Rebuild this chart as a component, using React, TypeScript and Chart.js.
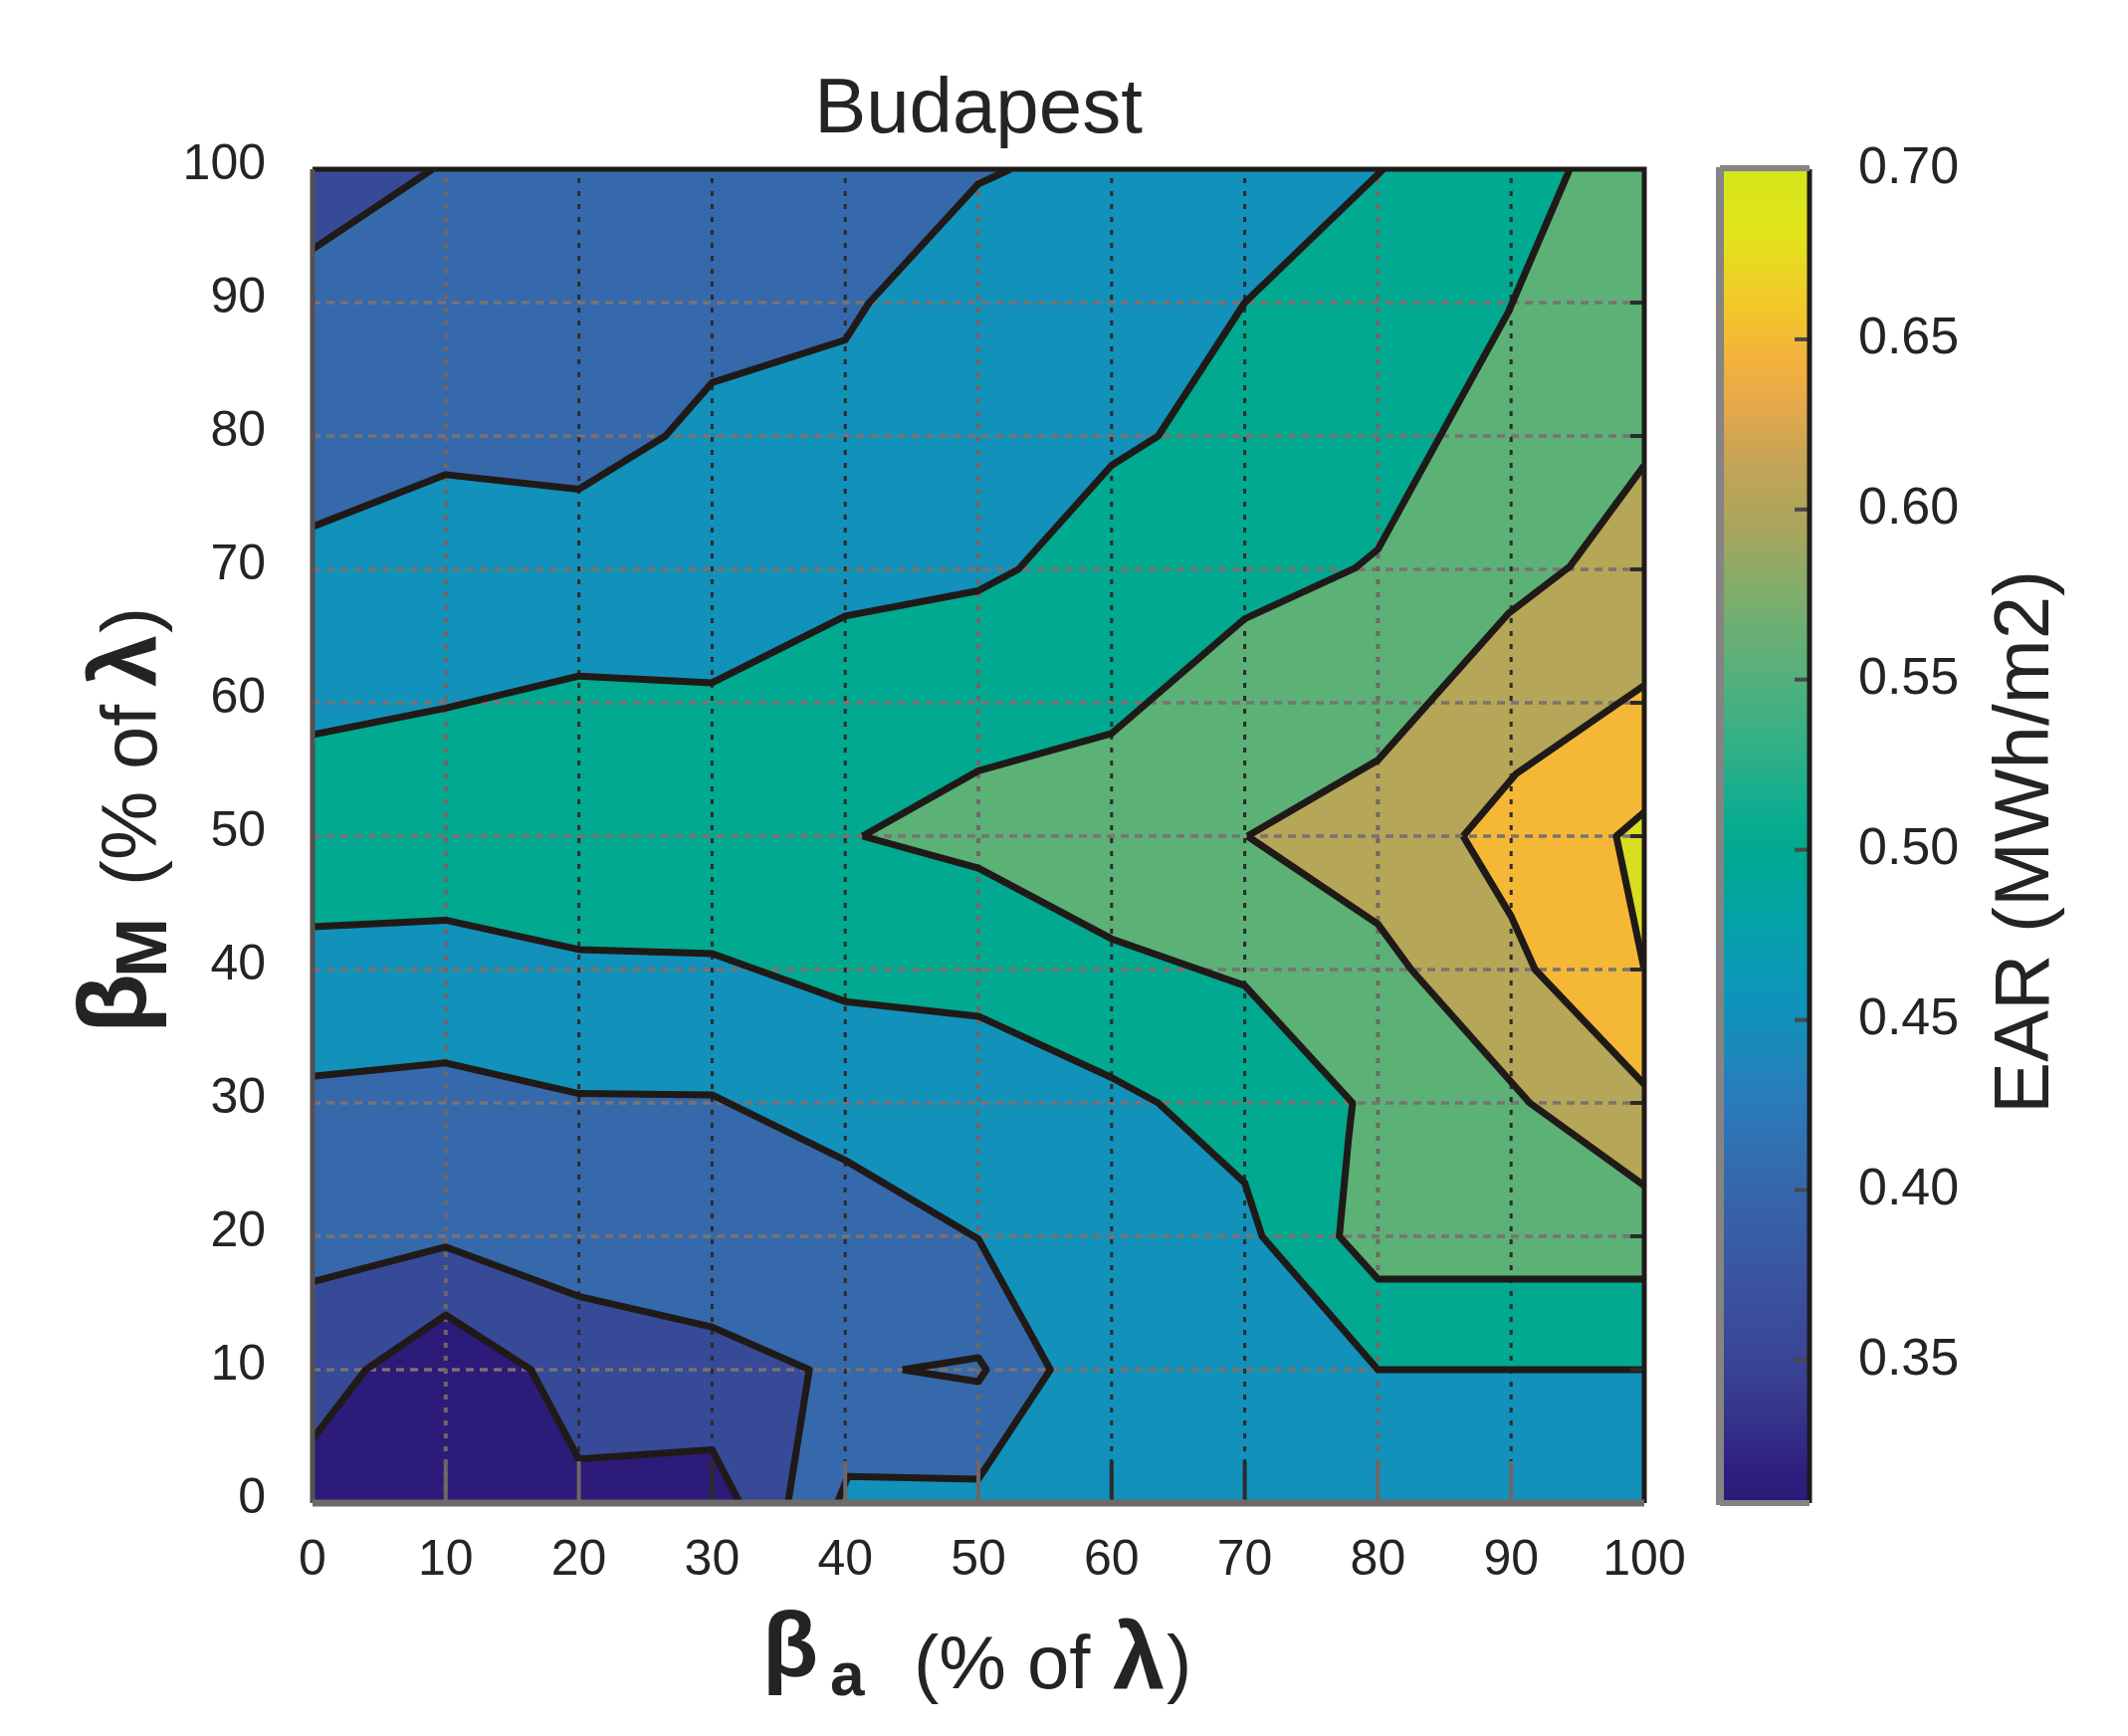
import { useEffect, useRef } from "react"
import { Chart, registerables } from "chart.js"

Chart.register(...registerables)

type Pt = [number, number]

const titleText = "Budapest"
const axisTicks = [0, 10, 20, 30, 40, 50, 60, 70, 80, 90, 100]
const gridTicks = [10, 20, 30, 40, 50, 60, 70, 80, 90]
const greyGridX = [10, 50, 80]

// contour lines as [beta a, beta M]
const cornerTop: Pt[] = [[0, 94], [9, 100]]
const upper045: Pt[] = [[0, 73.2], [10, 77.1], [20, 76], [26.5, 80], [30, 84], [40, 87.2], [41.8, 90], [50, 98.9], [52.4, 100]]
const upper050: Pt[] = [[0, 57.6], [10, 59.6], [20, 62], [30, 61.5], [40, 66.5], [50, 68.4], [53, 70], [60, 77.8], [63.5, 80], [70, 90], [80.4, 100]]
const upper055: Pt[] = [[41.3, 50], [50, 54.9], [60, 57.7], [70, 66.3], [78.3, 70.1], [80, 71.5], [89.8, 89.3], [94.4, 100]]
const lower055: Pt[] = [[41.3, 50], [50, 47.6], [60, 42.3], [70, 38.8], [78.1, 30], [77.8, 27.4], [77.1, 20], [80, 16.8], [100, 16.8]]
const lower050: Pt[] = [[0, 43.2], [10, 43.7], [20, 41.5], [30, 41.2], [40, 37.6], [50, 36.5], [60, 31.9], [63.5, 30], [70, 24], [71.3, 20], [80, 10], [100, 10]]
const lower045: Pt[] = [[0, 32], [10, 33], [20, 30.7], [30, 30.6], [40, 25.7], [50, 19.8], [55.4, 10], [50, 1.8], [40.2, 2], [39.4, 0]]
const lower040: Pt[] = [[0, 16.6], [10, 19.2], [20, 15.5], [30, 13.2], [37.3, 10], [35.7, 0]]
const lower035: Pt[] = [[0, 4.8], [4, 10], [10, 14.1], [16.4, 10], [20, 3.3], [30, 4], [32.1, 0]]
const island: Pt[] = [[44.3, 10], [50, 10.9], [50.6, 10], [50, 9.1], [44.3, 10]]
const upper060: Pt[] = [[70.2, 50], [80, 55.7], [89.8, 66.7], [94.4, 70.2], [100, 77.8]]
const lower060: Pt[] = [[70.2, 50], [80, 43.4], [82.5, 40], [91.4, 30], [100, 23.8]]
const upper065: Pt[] = [[86.4, 50], [90.4, 54.7], [100, 61.3]]
const lower065: Pt[] = [[86.4, 50], [90, 44], [91.8, 40], [100, 31.4]]
const peak070: Pt[] = [[100, 51.8], [97.9, 50], [100, 40]]

const bandColors = ["#2d1b79", "#374a97", "#3669ab", "#1291ba", "#00a98f", "#5cb176", "#b5a658", "#f5b836", "#d8de20"]
const contourColor = "#1f1a18"

// colour bar
const barMin = 0.308
const barMax = 0.7
const barTicks = [0.35, 0.4, 0.45, 0.5, 0.55, 0.6, 0.65, 0.7]
const barStops: [number, string][] = [
  [0.308, "#2c1a78"], [0.317, "#2e1e7e"], [0.331, "#35318a"], [0.349, "#3a4494"], [0.375, "#3a55a0"],
  [0.401, "#3567ac"], [0.427, "#2a7cb9"], [0.454, "#0f93bc"], [0.481, "#04a3a6"], [0.5, "#00a98f"],
  [0.509, "#0aac90"], [0.529, "#2fb089"], [0.555, "#5bb07a"], [0.575, "#7fad6b"], [0.594, "#a8a55c"],
  [0.614, "#c4a456"], [0.633, "#eaa948"], [0.6465, "#f4b43a"], [0.6595, "#f2c72b"], [0.682, "#e2e41a"], [0.7, "#d4e41a"],
]

const fontFamily = "'Liberation Sans', Arial, sans-serif"
const textColor = "#262324"

const pts = (line: Pt[]) => line.map(([x, y]) => ({ x, y }))
const rev = (line: Pt[]) => [...line].reverse()

function fillSet(poly: Pt[], color: string) {
  return { data: pts(poly), showLine: true, fill: "shape", backgroundColor: color, borderWidth: 0, pointRadius: 0, tension: 0 }
}

function lineSet(line: Pt[], color = contourColor, width = 7, dash: number[] = []) {
  return {
    data: pts(line),
    showLine: true,
    fill: false,
    borderColor: color,
    borderWidth: width,
    borderDash: dash,
    borderJoinStyle: "round",
    pointRadius: 0,
    tension: 0,
  }
}

type Run = { text: string; font: string; x: number; y: number }

// axis titles mix sizes and weights, so they are written by hand
const xTitle: Run[] = [
  { text: "β", font: `bold 92px ${fontFamily}`, x: 766, y: 1684 },
  { text: "a", font: `bold 62px ${fontFamily}`, x: 834, y: 1703 },
  { text: "(% of", font: `76px ${fontFamily}`, x: 918, y: 1696 },
  { text: "λ", font: `bold 94px ${fontFamily}`, x: 1118, y: 1697 },
  { text: ")", font: `76px ${fontFamily}`, x: 1172, y: 1696 },
]
const yTitle: Run[] = [
  { text: "β", font: `bold 98px ${fontFamily}`, x: -1038, y: 147 },
  { text: "M", font: `bold 72px ${fontFamily}`, x: -982, y: 167 },
  { text: "(% of", font: `78px ${fontFamily}`, x: -890, y: 157 },
  { text: "λ", font: `bold 94px ${fontFamily}`, x: -690, y: 157 },
  { text: ")", font: `78px ${fontFamily}`, x: -636, y: 157 },
]

function drawRuns(ctx: CanvasRenderingContext2D, runs: Run[], rotate = false) {
  ctx.save()
  ctx.fillStyle = textColor
  ctx.textAlign = "left"
  ctx.textBaseline = "alphabetic"
  if (rotate) ctx.rotate(-Math.PI / 2)
  runs.forEach((r) => {
    ctx.font = r.font
    ctx.fillText(r.text, r.x, r.y)
  })
  ctx.restore()
}

const framePlugin = {
  id: "frame",
  afterDraw(chart: any) {
    const { ctx, chartArea: a, scales } = chart
    ctx.save()
    // inward ticks
    ctx.lineWidth = 4
    axisTicks.forEach((t) => {
      const px = scales.x.getPixelForValue(t)
      ctx.strokeStyle = t === 60 || t === 70 || t === 30 ? "#2b2b2b" : "#6f6767"
      ctx.beginPath()
      ctx.moveTo(px, a.bottom)
      ctx.lineTo(px, a.bottom - 42)
      ctx.stroke()
      const py = scales.y.getPixelForValue(t)
      ctx.strokeStyle = "#2b2b2b"
      ctx.beginPath()
      ctx.moveTo(a.right, py)
      ctx.lineTo(a.right - 14, py)
      ctx.stroke()
    })
    // box: top and right are black, left and bottom came out grey in the print
    ctx.lineWidth = 5
    ctx.strokeStyle = "#1f1a18"
    ctx.beginPath()
    ctx.moveTo(a.left, a.top)
    ctx.lineTo(a.right, a.top)
    ctx.lineTo(a.right, a.bottom)
    ctx.stroke()
    ctx.strokeStyle = "#55504f"
    ctx.beginPath()
    ctx.moveTo(a.left, a.top)
    ctx.lineTo(a.left, a.bottom)
    ctx.stroke()
    ctx.lineWidth = 7
    ctx.strokeStyle = "#6e6a6a"
    ctx.beginPath()
    ctx.moveTo(a.left, a.bottom)
    ctx.lineTo(a.right, a.bottom)
    ctx.stroke()
    ctx.restore()
    drawRuns(ctx, xTitle)
    drawRuns(ctx, yTitle, true)
  },
}

const barPlugin = {
  id: "barFrame",
  afterDraw(chart: any) {
    const { ctx, chartArea: a, scales } = chart
    ctx.save()
    ctx.strokeStyle = "#4a4747"
    ctx.lineWidth = 4
    barTicks.forEach((t) => {
      const py = scales.y.getPixelForValue(t)
      ctx.beginPath()
      ctx.moveTo(a.right, py)
      ctx.lineTo(a.right - 15, py)
      ctx.stroke()
    })
    ctx.lineWidth = 5
    ctx.strokeStyle = "#1f1a18"
    ctx.beginPath()
    ctx.moveTo(a.right, a.top)
    ctx.lineTo(a.right, a.bottom)
    ctx.stroke()
    ctx.lineWidth = 8
    ctx.strokeStyle = "#858383"
    ctx.beginPath()
    ctx.moveTo(a.left, a.top - 2)
    ctx.lineTo(a.left, a.bottom + 2)
    ctx.stroke()
    ctx.lineWidth = 6
    ctx.beginPath()
    ctx.moveTo(a.left, a.top - 1)
    ctx.lineTo(a.right, a.top - 1)
    ctx.moveTo(a.left, a.bottom)
    ctx.lineTo(a.right, a.bottom)
    ctx.stroke()
    ctx.restore()
    ctx.save()
    ctx.translate(2058, 846)
    ctx.rotate(-Math.PI / 2)
    ctx.font = `78px ${fontFamily}`
    ctx.fillStyle = textColor
    ctx.textAlign = "center"
    ctx.textBaseline = "alphabetic"
    ctx.fillText("EAR (MWh/m2)", 0, 0)
    ctx.restore()
  },
}

export default function App() {
  const plotRef = useRef<HTMLCanvasElement>(null)
  const barRef = useRef<HTMLCanvasElement>(null)

  useEffect(() => {
    if (!plotRef.current || !barRef.current) return

    const [b0, b1, b2, b3, b4, b5, b6, b7, b8] = bandColors
    const fills = [
      fillSet([[0, 0], [100, 0], [100, 100], [0, 100]], b3),
      fillSet([...upper045, [0, 100]], b2),
      fillSet([...cornerTop, [0, 100]], b1),
      fillSet([...upper050, [100, 100], ...rev(lower050)], b4),
      fillSet([...upper055, [100, 100], ...rev(lower055)], b5),
      fillSet([...upper060, ...rev(lower060)], b6),
      fillSet([...upper065, ...rev(lower065)], b7),
      fillSet(peak070, b8),
      fillSet([...lower045, [0, 0]], b2),
      fillSet([...lower040, [0, 0]], b1),
      fillSet([...lower035, [0, 0]], b0),
    ]
    const grid = [
      ...gridTicks.map((t) => lineSet([[0, t], [100, t]], "#7a7272", 3.5, [8, 6])),
      ...gridTicks.map((t) => lineSet([[t, 0], [t, 100]], greyGridX.includes(t) ? "#6f6767" : "#2b2b2b", greyGridX.includes(t) ? 4 : 3, [5, 8])),
    ]
    const contours = [
      cornerTop, upper045, upper050, upper055, lower055, lower050, lower045, lower040, lower035,
      island, upper060, lower060, upper065, lower065, peak070,
    ].map((c) => lineSet(c))

    // first dataset is drawn last, so the list goes top layer first
    const datasets: any[] = [...fills, ...grid, ...contours].reverse()

    const tickFont = { family: fontFamily, size: 50 }

    const plot = new Chart(plotRef.current, {
      type: "scatter",
      data: { datasets },
      plugins: [framePlugin],
      options: {
        animation: false,
        responsive: false,
        devicePixelRatio: 1,
        layout: { padding: { left: 0, top: 0, right: 486, bottom: 0 } },
        plugins: {
          legend: { display: false },
          tooltip: { enabled: false },
          title: {
            display: true,
            text: titleText,
            fullSize: false,
            color: textColor,
            font: { family: fontFamily, size: 78, weight: "normal", lineHeight: 1.2 },
            padding: { top: 65, bottom: 11.4 },
          },
        },
        scales: {
          x: {
            type: "linear",
            min: 0,
            max: 100,
            grid: { display: false, drawTicks: false },
            border: { display: false },
            afterBuildTicks: (s: any) => { s.ticks = axisTicks.map((value) => ({ value })) },
            afterFit: (s: any) => { s.height = 234 },
            ticks: { font: tickFont, color: textColor, padding: 28, maxRotation: 0, autoSkip: false },
          },
          y: {
            type: "linear",
            min: 0,
            max: 100,
            grid: { display: false, drawTicks: false },
            border: { display: false },
            afterBuildTicks: (s: any) => { s.ticks = axisTicks.map((value) => ({ value })) },
            afterFit: (s: any) => { s.width = 314 },
            ticks: { font: tickFont, color: textColor, padding: 47, labelOffset: -4, autoSkip: false },
          },
        },
      },
    })

    const bar = new Chart(barRef.current, {
      type: "bar",
      data: {
        labels: ["EAR"],
        datasets: [
          {
            data: [[barMin, barMax]] as any,
            barPercentage: 1,
            categoryPercentage: 1,
            backgroundColor: (c: any) => {
              const area = c.chart.chartArea
              if (!area) return bandColors[3]
              const g = c.chart.ctx.createLinearGradient(0, area.bottom, 0, area.top)
              barStops.forEach(([v, col]) => g.addColorStop((v - barMin) / (barMax - barMin), col))
              return g
            },
          },
        ],
      },
      plugins: [barPlugin],
      options: {
        animation: false,
        responsive: false,
        devicePixelRatio: 1,
        layout: { padding: { left: 1728, top: 170, right: 0, bottom: 234 } },
        plugins: { legend: { display: false }, tooltip: { enabled: false } },
        scales: {
          x: { display: false },
          y: {
            position: "right",
            min: barMin,
            max: barMax,
            grid: { display: false, drawTicks: false },
            border: { display: false },
            afterBuildTicks: (s: any) => { s.ticks = barTicks.map((value) => ({ value })) },
            afterFit: (s: any) => { s.width = 320 },
            ticks: {
              font: { family: fontFamily, size: 52 },
              color: textColor,
              padding: 49,
              labelOffset: 0,
              callback: (v: any) => Number(v).toFixed(2),
            },
          },
        },
      },
    })

    return () => {
      plot.destroy()
      bar.destroy()
    }
  }, [])

  const canvasStyle = { position: "absolute", left: 0, top: 0, display: "block" } as const

  return (
    <div style={{ position: "absolute", left: 0, top: 0, width: 2138, height: 1744, background: "#fff" }}>
      <canvas ref={barRef} width={2138} height={1744} style={canvasStyle} />
      <canvas ref={plotRef} width={2138} height={1744} style={canvasStyle} />
    </div>
  )
}
